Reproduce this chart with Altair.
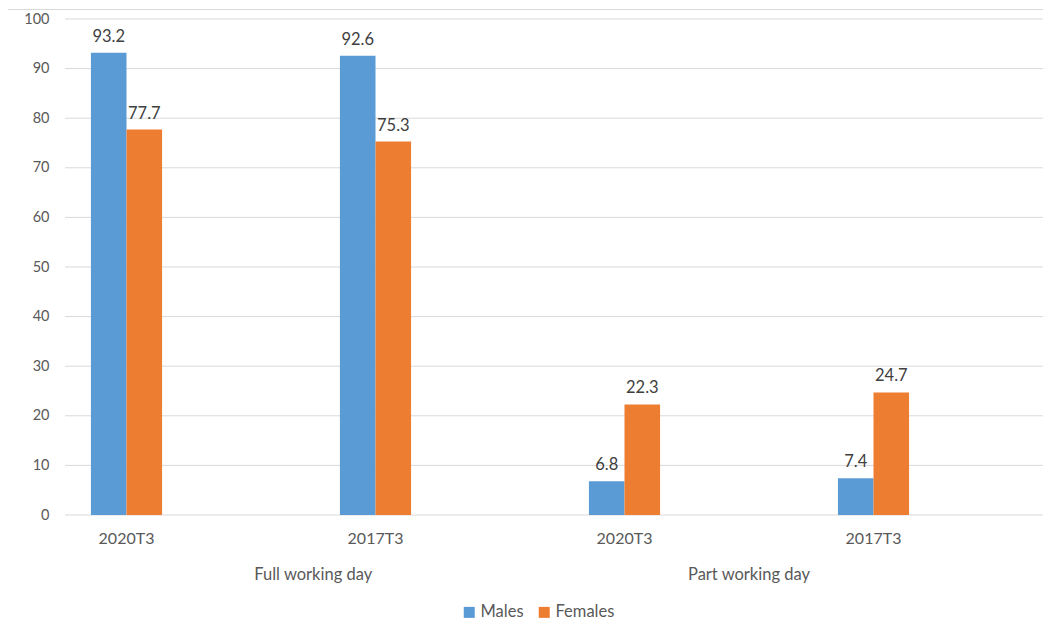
import altair as alt
import pandas as pd

groups = ["Full working day", "Full working day", "Part working day", "Part working day"]
periods = ["2020T3", "2017T3", "2020T3", "2017T3"]
males = [93.2, 92.6, 6.8, 7.4]
females = [77.7, 75.3, 22.3, 24.7]
series = ["Males", "Females"]
colors = ["#5B9BD5", "#ED7D31"]
y_ticks = [0, 10, 20, 30, 40, 50, 60, 70, 80, 90, 100]

cat_order = [g + "|" + p for g, p in zip(groups, periods)]
rows = []
for key, m, f in zip(cat_order, males, females):
    rows.append({"cat": key, "series": "Males", "value": m})
    rows.append({"cat": key, "series": "Females", "value": f})
df = pd.DataFrame(rows)

FONT = "Lato"
TXT = "#595959"

# empty slots around the two bars of each cluster (spacing only)
offset_domain = ["_p1", "_p2"] + series + ["_p3", "_p4"]

xscale = alt.Scale(domain=cat_order, range=[-63, 933], paddingInner=0, paddingOuter=0)
yscale = alt.Scale(domain=[0, 100])
x_enc = alt.X("cat:N", scale=xscale,
              axis=alt.Axis(title=None, labelExpr="split(datum.label, '|')[1]",
                            domain=False, ticks=False, labelPadding=15,
                            labelFontSize=16, labelColor=TXT, labelFont=FONT,
                            grid=False, labelAngle=0))
xoff_enc = alt.XOffset("series:N",
                       scale=alt.Scale(domain=offset_domain, paddingInner=0, paddingOuter=0.5))
y_enc = alt.Y("value:Q", scale=yscale,
              axis=alt.Axis(title=None, values=y_ticks, domain=False, ticks=False,
                            labelPadding=16, labelFontSize=14.5, labelColor=TXT,
                            labelFont=FONT, grid=False))

# horizontal gridlines across the plot area
grid = alt.Chart(pd.DataFrame({"tick": y_ticks})).mark_rule(
    color="#d9d9d9", strokeWidth=1).encode(
    y=alt.Y("tick:Q", scale=yscale),
    x=alt.value(0), x2=alt.value(978),
)

base = alt.Chart(df)

bars = base.mark_bar().encode(
    x=x_enc,
    xOffset=xoff_enc,
    y=y_enc,
    color=alt.Color("series:N", scale=alt.Scale(domain=series, range=colors),
                    legend=alt.Legend(title=None, orient="none", legendX=396, legendY=585,
                                      direction="horizontal", symbolType="square",
                                      symbolSize=121, labelFontSize=16.5, labelFont=FONT,
                                      labelColor=TXT, columnPadding=12, labelOffset=3,
                                      padding=0, symbolStrokeWidth=0)),
)

labels = base.mark_text(baseline="alphabetic", dy=-11, font=FONT, fontSize=16.5,
                        color="#404040").encode(
    x=alt.X("cat:N", scale=xscale),
    xOffset=xoff_enc,
    y=alt.Y("value:Q"),
    text=alt.Text("value:Q", format=".1f"),
)

grp_df = pd.DataFrame({"cat": [cat_order[1], cat_order[3]],
                       "label": [groups[1], groups[3]]})
gbase = alt.Chart(grp_df)
glabel_full = gbase.transform_filter(alt.datum.label == groups[1]).mark_text(
    baseline="alphabetic", font=FONT, fontSize=16.5, color=TXT).encode(
    x=alt.X("cat:N", scale=xscale, bandPosition=0.25),
    y=alt.value(561),
    text="label:N",
)
glabel_part = gbase.transform_filter(alt.datum.label == groups[3]).mark_text(
    baseline="alphabetic", font=FONT, fontSize=16.5, color=TXT).encode(
    x=alt.X("cat:N", scale=xscale, bandPosition=0),
    y=alt.value(561),
    text="label:N",
)

frame = alt.Chart(pd.DataFrame({"a": [0]})).mark_rule(color="#d9d9d9", strokeWidth=1).encode(
    x=alt.value(-57), x2=alt.value(978), y=alt.value(-9.5))

chart = alt.layer(frame, grid, bars, labels, glabel_full, glabel_part).properties(
    width=976, height=496,
    autosize=alt.AutoSizeParams(type="none"),
    padding={"left": 57, "top": 11, "right": 2, "bottom": 110},
).configure_view(stroke=None)

chart.save("out.html", embed_options={"renderer": "svg", "actions": False})
